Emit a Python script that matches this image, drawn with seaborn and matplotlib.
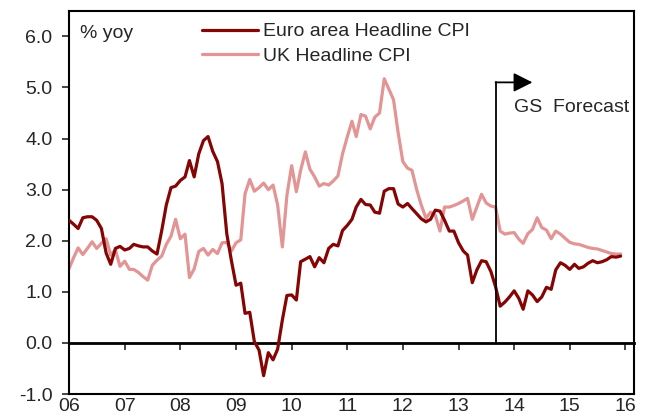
import numpy as np
import pandas as pd
import matplotlib
matplotlib.use("Agg")
import matplotlib.pyplot as plt
import matplotlib.dates as mdates
import seaborn as sns

# Monthly series, Jan 2006 - Dec 2015 (% yoy)
months = pd.date_range("2006-01-01", periods=120, freq="MS")

euro_cpi = [
    2.40, 2.32, 2.24, 2.45, 2.47, 2.47, 2.40, 2.24, 1.76, 1.54, 1.85, 1.89,
    1.82, 1.85, 1.93, 1.90, 1.88, 1.88, 1.80, 1.74, 2.20, 2.70, 3.04, 3.07,
    3.18, 3.25, 3.57, 3.25, 3.70, 3.96, 4.04, 3.75, 3.55, 3.12, 2.14, 1.62,
    1.13, 1.17, 0.58, 0.60, 0.03, -0.14, -0.64, -0.19, -0.33, -0.12, 0.45, 0.93,
    0.94, 0.84, 1.59, 1.64, 1.69, 1.49, 1.67, 1.57, 1.85, 1.93, 1.90, 2.20,
    2.30, 2.42, 2.66, 2.81, 2.71, 2.70, 2.56, 2.54, 2.97, 3.02, 3.02, 2.72,
    2.66, 2.73, 2.63, 2.53, 2.43, 2.37, 2.42, 2.60, 2.58, 2.40, 2.19, 2.19,
    1.96, 1.80, 1.72, 1.18, 1.43, 1.61, 1.59, 1.40, 1.10, 0.72, 0.80, 0.90,
    1.02, 0.87, 0.66, 1.02, 0.94, 0.81, 0.90, 1.09, 1.05, 1.43, 1.57, 1.52,
    1.44, 1.54, 1.46, 1.49, 1.56, 1.61, 1.57, 1.59, 1.63, 1.69, 1.68, 1.70,
]

uk_cpi = [
    1.46, 1.68, 1.86, 1.73, 1.85, 1.98, 1.85, 1.95, 2.04, 1.72, 1.82, 1.50,
    1.60, 1.44, 1.44, 1.38, 1.30, 1.23, 1.52, 1.62, 1.70, 1.93, 2.09, 2.42,
    2.04, 2.13, 1.28, 1.45, 1.79, 1.85, 1.72, 1.83, 1.75, 1.96, 1.97, 1.80,
    1.96, 2.02, 2.92, 3.20, 2.97, 3.04, 3.13, 3.00, 3.09, 2.70, 1.88, 2.89,
    3.47, 2.96, 3.38, 3.74, 3.40, 3.25, 3.07, 3.12, 3.09, 3.17, 3.27, 3.70,
    4.03, 4.34, 4.04, 4.47, 4.44, 4.19, 4.42, 4.50, 5.17, 4.97, 4.76, 4.12,
    3.55, 3.42, 3.38, 3.00, 2.70, 2.44, 2.56, 2.50, 2.19, 2.66, 2.66, 2.69,
    2.73, 2.78, 2.83, 2.42, 2.66, 2.91, 2.74, 2.68, 2.66, 2.19, 2.13, 2.15,
    2.16, 2.03, 1.95, 2.14, 2.22, 2.45, 2.26, 2.21, 2.04, 2.19, 2.13, 2.05,
    1.97, 1.94, 1.93, 1.90, 1.87, 1.85, 1.84, 1.81, 1.78, 1.75, 1.74, 1.74,
]

series_names = ["Euro area Headline CPI", "UK Headline CPI"]
series_colors = ["#850505", "#E39494"]

y_ticks = [-1.0, 0.0, 1.0, 2.0, 3.0, 4.0, 5.0, 6.0]
year_ticks = pd.date_range("2006-01-01", "2016-01-01", freq="YS")

forecast_start = pd.Timestamp("2013-09-01")
forecast_arrow_end = pd.Timestamp("2014-05-01")
forecast_level = 5.1

sns.set_style("white")
plt.rcParams["font.family"] = ["Liberation Sans", "DejaVu Sans"]
fs = 14

fig = plt.figure(figsize=(6.46, 4.17), dpi=100)
ax = fig.add_axes([0.107, 0.055, 0.874, 0.919])

# Series
sns.lineplot(x=months, y=euro_cpi, ax=ax, color=series_colors[0], linewidth=2.3, label=series_names[0])
sns.lineplot(x=months, y=uk_cpi, ax=ax, color=series_colors[1], linewidth=2.3, label=series_names[1])
ax.lines[0].set_zorder(3)

# Forecast marker
ax.plot([forecast_start, forecast_start], [0, forecast_level], color="black", linewidth=1.3, zorder=4)
ax.annotate("", xy=(forecast_arrow_end, forecast_level), xytext=(forecast_start, forecast_level),
            arrowprops=dict(arrowstyle="-|>,head_length=1.15,head_width=0.58", color="black", lw=1.3,
                            shrinkA=0, shrinkB=0), zorder=4)
ax.text(pd.Timestamp("2014-01-01"), 4.6, "GS  Forecast", fontsize=fs, va="center", ha="left")

ax.set_ylim(-1, 6.5)
ax.set_xlim(pd.Timestamp("2006-01-01"), pd.Timestamp("2016-02-25"))
ax.set_yticks(y_ticks)
ax.set_yticklabels([f"{v:.1f}" for v in y_ticks])
ax.tick_params(axis="y", direction="out", length=5, width=1.2, pad=7, labelsize=fs, left=True)

# zero line carries the year tick marks
ax.spines["bottom"].set_position(("data", 0))
ax.spines["bottom"].set_linewidth(2.0)
ax.set_xticks(year_ticks)
ax.tick_params(axis="x", direction="out", length=5, width=1.2, labelbottom=False, bottom=True)

for side in ["left", "top", "right", "bottom"]:
    ax.spines[side].set_color("black")
for side in ["left", "top", "right"]:
    ax.spines[side].set_linewidth(1.5)

# bottom frame with year labels
sec = ax.secondary_xaxis("bottom")
sec.set_xticks(year_ticks)
sec.xaxis.set_major_formatter(mdates.DateFormatter("%y"))
sec.tick_params(axis="x", length=0, pad=3, labelsize=fs)
sec.spines["bottom"].set_linewidth(1.5)
sec.spines["bottom"].set_color("black")

ax.set_xlabel("")
ax.set_ylabel("")

ax.text(0.02, 0.94, "% yoy", transform=ax.transAxes, fontsize=fs, va="center", ha="left")

ax.legend(loc="upper left", bbox_to_anchor=(0.235, 0.969), frameon=False, fontsize=fs,
          handlelength=2.9, handletextpad=0.25, labelspacing=0.34, borderaxespad=0, borderpad=0)

fig.savefig("out.png", dpi=100)
